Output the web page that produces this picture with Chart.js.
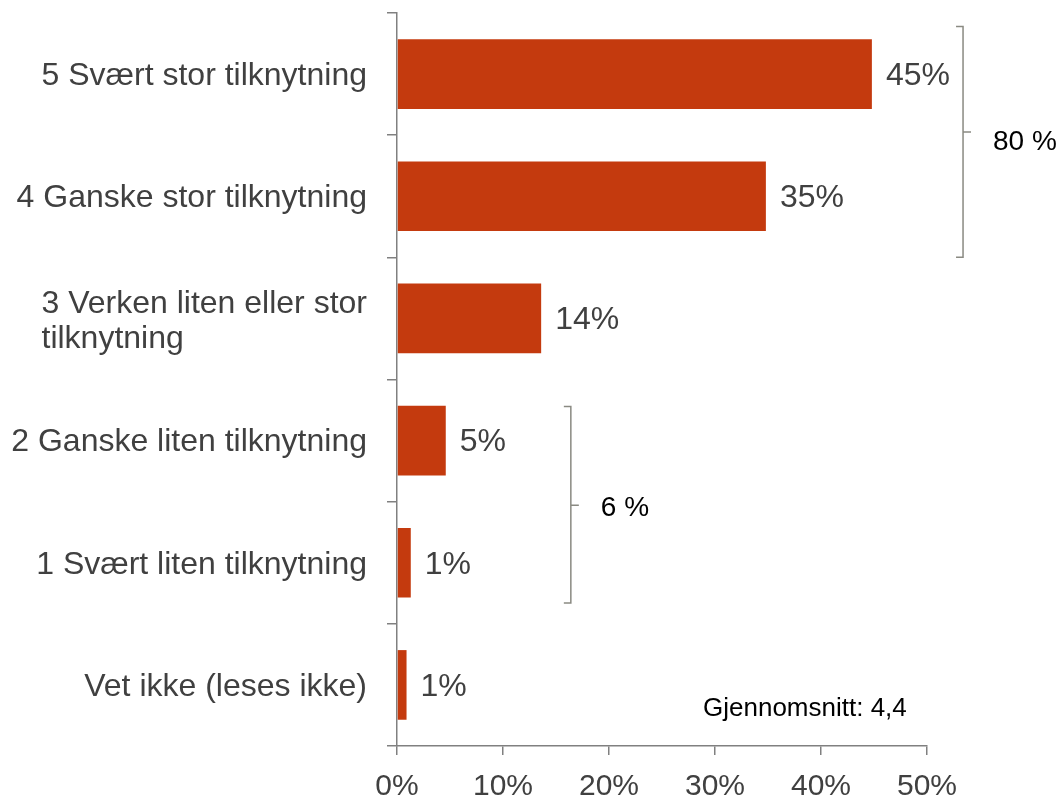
<!DOCTYPE html>
<html>
<head>
<meta charset="utf-8">
<script src="https://cdn.jsdelivr.net/npm/chart.js@4/dist/chart.umd.min.js"></script>
<style>
  html, body { margin: 0; padding: 0; background: #fff; }
  #wrap { width: 1064px; height: 799px; position: relative; }
</style>
</head>
<body>
<div id="wrap"><canvas id="c"></canvas></div>
<script>
const categories = [
  "5 Svært stor tilknytning",
  "4 Ganske stor tilknytning",
  ["3 Verken liten eller stor", "tilknytning"],
  "2 Ganske liten tilknytning",
  "1 Svært liten tilknytning",
  "Vet ikke (leses ikke)"
];
const values = [44.8, 34.8, 13.6, 4.6, 1.3, 0.9];
const valueLabels = ["45%", "35%", "14%", "5%", "1%", "1%"];
const xTickValues = [0, 10, 20, 30, 40, 50];
const groupLabels = ["80 %", "6 %"];
const meanLabel = "Gjennomsnitt: 4,4";

// annotation geometry (in axis units), kept separate from data
const brackets = [
  { x: 53.4, from: -0.39, to: 1.5, mid: 0.475, textAt: 0.557, text: groupLabels[0] },
  { x: 16.4, from: 2.72, to: 4.33, mid: 3.53, textAt: 3.557, text: groupLabels[1] }
];

const FONT = "'Liberation Sans', Arial, sans-serif";
const TXT = "#404040";
const AXIS = "#808080";

const overlay = {
  id: 'overlay',
  afterDraw(chart) {
    const ctx = chart.ctx;
    const xs = chart.scales.x, ys = chart.scales.y;
    ctx.save();
    // category labels
    ctx.fillStyle = TXT;
    ctx.font = "32px " + FONT;
    ctx.textBaseline = 'middle';
    const rightX = xs.getPixelForValue(0) - 30;
    categories.forEach((lab, i) => {
      const cy = ys.getPixelForValue(i);
      if (Array.isArray(lab)) {
        const w = Math.max(...lab.map(l => ctx.measureText(l).width));
        const lh = 35;
        ctx.textAlign = 'left';
        lab.forEach((l, j) => {
          ctx.fillText(l, rightX - w, cy + 3 + (j - (lab.length - 1) / 2) * lh);
        });
      } else {
        ctx.textAlign = 'right';
        ctx.fillText(lab, rightX, cy + 2);
      }
    });
    // value labels
    ctx.font = "32px " + FONT;
    ctx.textAlign = 'left';
    values.forEach((v, i) => {
      ctx.fillText(valueLabels[i], xs.getPixelForValue(v) + 14, ys.getPixelForValue(i) + 2);
    });
    // brackets
    ctx.strokeStyle = "#8a8a82";
    ctx.lineWidth = 1.5;
    brackets.forEach(b => {
      const x = xs.getPixelForValue(b.x);
      const y1 = ys.getPixelForValue(b.from), y2 = ys.getPixelForValue(b.to);
      const ym = ys.getPixelForValue(b.mid);
      ctx.beginPath();
      ctx.moveTo(x - 7, y1); ctx.lineTo(x, y1); ctx.lineTo(x, y2); ctx.lineTo(x - 7, y2);
      ctx.moveTo(x, ym); ctx.lineTo(x + 8, ym);
      ctx.stroke();
      ctx.fillStyle = "#000";
      ctx.font = "28px " + FONT;
      ctx.textAlign = 'left';
      ctx.fillText(b.text, x + 30, ys.getPixelForValue(b.textAt));
    });
    // mean
    ctx.fillStyle = "#000";
    ctx.font = "26px " + FONT;
    ctx.fillText(meanLabel, 703, 709);
    ctx.restore();
  }
};

new Chart(document.getElementById('c'), {
  type: 'bar',
  data: {
    labels: categories,
    datasets: [{
      data: values,
      backgroundColor: '#C43A0E',
      borderWidth: 0,
      barPercentage: 0.57,
      categoryPercentage: 1.0
    }]
  },
  options: {
    indexAxis: 'y',
    responsive: true,
    maintainAspectRatio: false,
    animation: false,
    layout: { padding: { top: 13, right: 137, left: 0, bottom: 0 } },
    plugins: { legend: { display: false }, tooltip: { enabled: false } },
    scales: {
      x: {
        min: 0, max: 50,
        afterBuildTicks: s => { s.ticks = xTickValues.map(v => ({ value: v })); },
        ticks: {
          callback: v => v + '%',
          color: TXT,
          font: { size: 30, family: FONT },
          padding: 14,
          maxRotation: 0
        },
        grid: { drawOnChartArea: false, drawTicks: true, tickLength: 9, color: AXIS, lineWidth: 1.5 },
        border: { color: AXIS, width: 1.5 },
        afterFit: s => { s.height = 53; }
      },
      y: {
        ticks: { display: false },
        grid: { offset: true, drawOnChartArea: false, drawTicks: true, tickLength: 10, color: AXIS, lineWidth: 1.5 },
        border: { color: AXIS, width: 1.5 },
        afterFit: s => { s.width = 397; }
      }
    }
  },
  plugins: [overlay]
});
</script>
</body>
</html>
